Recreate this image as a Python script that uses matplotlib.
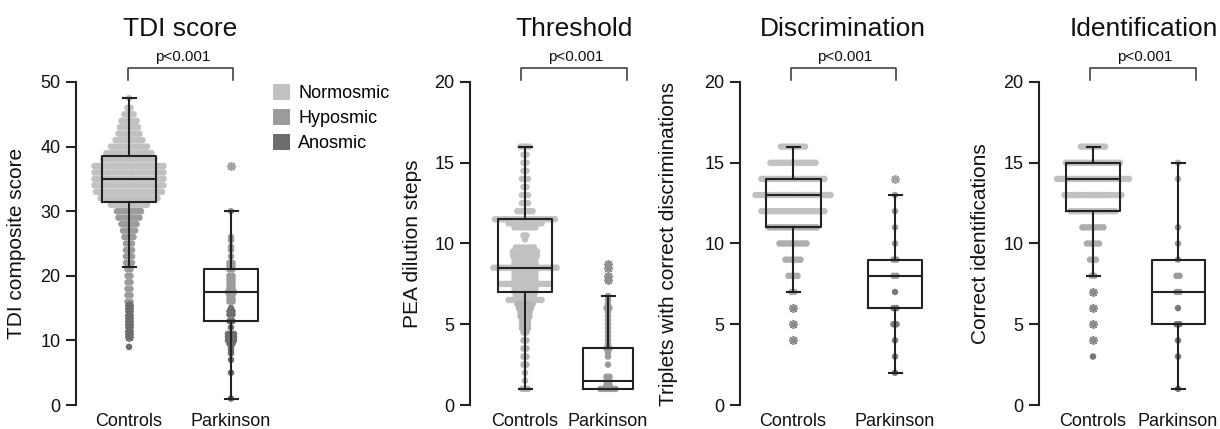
import numpy as np
import matplotlib
matplotlib.use('Agg')
import matplotlib.pyplot as plt
from matplotlib.patches import Patch
from matplotlib.lines import Line2D

plt.rcParams['font.family'] = ['Liberation Sans', 'DejaVu Sans']

W, H, DPI = 1220, 429, 100

# ---------------- data ----------------
groups = ['Controls', 'Parkinson']
legend_labels = ['Normosmic', 'Hyposmic', 'Anosmic']
p_text = 'p<0.001'

# TDI composite score
tdi_ctrl_vals = [47.5, 46, 45, 44, 43, 42, 41, 40, 39, 38, 37, 36, 35, 34, 33, 32, 31,
                 30, 29, 28, 27, 26, 25, 24, 23, 22, 21, 20, 19, 18, 17, 16, 9]
tdi_ctrl_counts = [1, 2, 4, 6, 7, 8, 10, 13, 16, 18, 24, 24, 24, 24, 23, 20, 13,
                   9, 8, 6, 5, 4, 3, 3, 3, 3, 2, 2, 2, 2, 2, 2, 1]
tdi_ctrl_outliers = [15.5, 15, 14.5, 14, 13.5, 13, 12.5, 12, 11.5, 11, 10.5]
tdi_park_vals = [30, 26, 25.5, 24.5, 24, 23, 22, 21.5, 21, 20, 19.5, 19, 18.5, 18, 17.5, 17,
                 16.5, 16, 15, 14.5, 14, 13, 12, 11, 10.5, 10, 9.5, 9, 8.5, 8, 7, 5, 1]
tdi_park_counts = [1, 1, 1, 1, 1, 1, 2, 2, 2, 2, 2, 2, 2, 2, 3, 2,
                   2, 2, 1, 2, 2, 2, 1, 3, 3, 3, 2, 1, 1, 1, 1, 1, 1]
tdi_park_outliers = [37]
# box statistics: whislo, q1, median, q3, whishi
tdi_box_ctrl = [21.3, 31.5, 35.0, 38.5, 47.5]
tdi_box_park = [1.0, 13.0, 17.5, 21.0, 30.0]

# Threshold (PEA dilution steps)
thr_ctrl_vals = [16, 15.5, 15, 14.5, 14, 13.5, 13, 12.5, 12, 11.5, 11.25, 11, 10.5, 10.25,
                 9.75, 9.5, 9.25, 9, 8.75, 8.5, 8.25, 8, 7.75, 7.5, 7.25, 7, 6.75, 6.5,
                 6.25, 6, 5.75, 5.5, 5.25, 5, 4.75, 4.5, 4, 3.5, 3, 2.5, 2, 1.5, 1]
thr_ctrl_counts = [4, 2, 2, 2, 3, 2, 3, 3, 6, 21, 12, 8, 2, 1,
                   7, 9, 9, 8, 8, 22, 8, 8, 8, 17, 8, 8, 7, 12,
                   6, 5, 4, 4, 3, 3, 3, 2, 2, 2, 2, 2, 1, 1, 3]
thr_ctrl_outliers = []
thr_park_vals = [6.75, 6.5, 6.25, 6, 5.75, 5.5, 5.25, 5, 4.75, 4.5, 4.25, 4, 3.75, 3.5,
                 3.25, 3, 2.5, 1.75, 1.5, 1.25, 1]
thr_park_counts = [1, 1, 1, 2, 1, 1, 1, 1, 1, 1, 1, 1, 1, 2,
                   1, 1, 1, 2, 2, 2, 6]
thr_park_outliers = [8.75, 8.5, 8.0, 7.75]
thr_box_ctrl = [1.0, 7.0, 8.5, 11.5, 16.0]
thr_box_park = [1.0, 1.0, 1.5, 3.5, 6.75]

# Discrimination
dis_ctrl_vals = [16, 15, 14, 13, 12, 11, 10, 9, 8, 7]
dis_ctrl_counts = [9, 16, 22, 26, 22, 17, 10, 6, 4, 2]
dis_ctrl_outliers = [6, 5, 4]
dis_park_vals = [13, 12, 11, 10, 9, 8, 7, 6, 5, 4, 3, 2]
dis_park_counts = [1, 1, 1, 1, 2, 2, 1, 2, 2, 1, 1, 1]
dis_park_outliers = [14]
dis_box_ctrl = [7, 11, 13, 14, 16]
dis_box_park = [2, 6, 8, 9, 13]

# Identification
ide_ctrl_vals = [16, 15, 14, 13, 12, 11, 10, 9, 8, 3]
ide_ctrl_counts = [9, 19, 25, 20, 16, 8, 5, 3, 2, 1]
ide_ctrl_outliers = [7, 6, 5, 4]
ide_park_vals = [15, 14, 11, 10, 9, 8, 7, 6, 5, 4, 3, 1]
ide_park_counts = [1, 1, 1, 1, 1, 2, 2, 1, 2, 1, 1, 1]
ide_park_outliers = []
ide_box_ctrl = [8, 12, 14, 15, 16]
ide_box_park = [1, 5, 7, 9, 15]

# ---------------- style ----------------
LIGHT, MED, DARK = '#c1c1c3', '#9b9b9d', '#6d6d71'
MIDLIGHT = '#adadaf'
INK = '#222222'

panels = [
    dict(title='TDI score', ylabel='TDI composite score', top=50, yticks=[0, 10, 20, 30, 40, 50],
         spine=76, ctrl=129, park=231, right=275, title_x=180.5, ylab_x=17,
         br=(128, 233), p_x=183,
         ctrl_data=(tdi_ctrl_vals, tdi_ctrl_counts, tdi_ctrl_outliers, tdi_box_ctrl),
         park_data=(tdi_park_vals, tdi_park_counts, tdi_park_outliers, tdi_box_park),
         ctrl_cut=(30.5, 15.9, LIGHT, MED, DARK), park_cut=(30.5, 15.9, LIGHT, MED, DARK),
         ctrl_out_c=DARK, park_out_c='#a0a0a2', widths=(54, 54)),
    dict(title='Threshold', ylabel='PEA dilution steps', top=20, yticks=[0, 5, 10, 15, 20],
         spine=470, ctrl=525, park=608, right=650, title_x=574, ylab_x=413,
         br=(521, 627), p_x=576,
         ctrl_data=(thr_ctrl_vals, thr_ctrl_counts, thr_ctrl_outliers, thr_box_ctrl),
         park_data=(thr_park_vals, thr_park_counts, thr_park_outliers, thr_box_park),
         ctrl_cut=(6.3, -1, LIGHT, '#b5b5b7', DARK), park_cut=(99, -1, LIGHT, MED, DARK),
         ctrl_out_c=MED, park_out_c='#8e8e90', widths=(54, 50)),
    dict(title='Discrimination', ylabel='Triplets with correct discriminations', top=20,
         yticks=[0, 5, 10, 15, 20],
         spine=740, ctrl=793, park=895, right=940, title_x=843, ylab_x=669,
         br=(791, 896), p_x=845,
         ctrl_data=(dis_ctrl_vals, dis_ctrl_counts, dis_ctrl_outliers, dis_box_ctrl),
         park_data=(dis_park_vals, dis_park_counts, dis_park_outliers, dis_box_park),
         ctrl_cut=(11.5, -1, LIGHT, MIDLIGHT, DARK), park_cut=(99, 7.5, LIGHT, MED, '#7a7a7e'),
         ctrl_out_c='#8a8a8c', park_out_c='#a0a0a2', widths=(55, 54)),
    dict(title='Identification', ylabel='Correct identifications', top=20, yticks=[0, 5, 10, 15, 20],
         spine=1039, ctrl=1093, park=1178, right=1215, title_x=1144, ylab_x=981,
         br=(1090, 1196), p_x=1145,
         ctrl_data=(ide_ctrl_vals, ide_ctrl_counts, ide_ctrl_outliers, ide_box_ctrl),
         park_data=(ide_park_vals, ide_park_counts, ide_park_outliers, ide_box_park),
         ctrl_cut=(11.5, 3.5, LIGHT, MIDLIGHT, '#76767a'), park_cut=(13.5, 6.5, '#b3b3b5', MED, '#7a7a7e'),
         ctrl_out_c='#8a8a8c', park_out_c=MED, widths=(54, 53)),
]

Y0_PX, Y1_PX = 405, 82
DX_PX = 3.0          # horizontal spacing between swarm points (px)
MS = 22              # scatter marker area (pt^2)

fig = plt.figure(figsize=(W / DPI, H / DPI), dpi=DPI)
fig.patch.set_facecolor('white')


def level_colors(vals, cut):
    hi, lo, c_hi, c_mid, c_lo = cut
    return [c_hi if v >= hi else (c_mid if v >= lo else c_lo) for v in vals]


def draw_group(ax, pos, data, cut, out_c, ppu, width_px):
    vals, counts, outliers, box = data
    cols = level_colors(vals, cut)
    xs, ys, cs = [], [], []
    for v, n, c in zip(vals, counts, cols):
        offs = (np.arange(n) - (n - 1) / 2.0) * DX_PX / ppu
        xs.extend(pos + offs)
        ys.extend([v] * n)
        cs.extend([c] * n)
    ax.scatter(xs, ys, s=MS, c=cs, linewidths=0, zorder=2, clip_on=False)
    if outliers:
        ax.plot([pos] * len(outliers), outliers, linestyle='none', marker=(8, 2, 0),
                markersize=6.5, markeredgewidth=1.2, color=out_c, zorder=3, clip_on=False)
    whislo, q1, med, q3, whishi = box
    stats = [dict(whislo=whislo, q1=q1, med=med, q3=q3, whishi=whishi, fliers=[])]
    lp = dict(color=INK, linewidth=1.5)
    ax.bxp(stats, positions=[pos], widths=[width_px / ppu], capwidths=[13 / ppu],
           showfliers=False, boxprops=lp, whiskerprops=lp, capprops=lp, medianprops=lp,
           manage_ticks=False, zorder=4)


for p in panels:
    ppu = p['park'] - p['ctrl']
    ax = fig.add_axes([p['spine'] / W, (H - Y0_PX) / H,
                       (p['right'] - p['spine']) / W, (Y0_PX - Y1_PX) / H])
    ax.set_facecolor('none')
    ax.set_xlim((p['spine'] - p['ctrl']) / ppu, (p['right'] - p['ctrl']) / ppu)
    ax.set_ylim(0, p['top'])
    draw_group(ax, 0, p['ctrl_data'], p['ctrl_cut'], p['ctrl_out_c'], ppu, p['widths'][0])
    draw_group(ax, 1, p['park_data'], p['park_cut'], p['park_out_c'], ppu, p['widths'][1])

    for s in ['top', 'right', 'bottom']:
        ax.spines[s].set_visible(False)
    ax.spines['left'].set_linewidth(1.5)
    ax.spines['left'].set_color(INK)
    ax.set_yticks(p['yticks'])
    ax.set_xticks([0, 1])
    ax.set_xticklabels(groups)
    ax.tick_params(axis='y', length=7, width=1.5, color=INK, pad=4, labelsize=13, labelcolor='#111111')
    ax.tick_params(axis='x', length=0, pad=6, labelsize=13, labelcolor='#111111')
    ax.set_ylabel(p['ylabel'], fontsize=15, color='#111111', va='center')
    ax.yaxis.set_label_coords((p['ylab_x'] - p['spine']) / (p['right'] - p['spine']), 0.5)

    fig.text(p['title_x'] / W, 1 - 36 / H, p['title'], ha='center', va='baseline',
             fontsize=19, color='#111111')
    fig.text(p['p_x'] / W, 1 - 61 / H, p_text, ha='center', va='baseline',
             fontsize=11, color='#111111')
    x1, x2 = p['br']
    fig.add_artist(Line2D([x1 / W, x1 / W, x2 / W, x2 / W],
                          [1 - 80 / H, 1 - 68 / H, 1 - 68 / H, 1 - 80 / H],
                          transform=fig.transFigure, color='#333333', linewidth=1.1))

handles = [Patch(facecolor=c, edgecolor='none') for c in (LIGHT, MED, DARK)]
fig.legend(handles, legend_labels, loc='upper left', bbox_to_anchor=(273 / W, 1 - 84 / H),
           frameon=False, fontsize=13, handlelength=0.95, handleheight=0.95,
           handletextpad=0.45, labelspacing=0.4, borderpad=0, borderaxespad=0)

fig.savefig('out.png', dpi=DPI, facecolor='white')
